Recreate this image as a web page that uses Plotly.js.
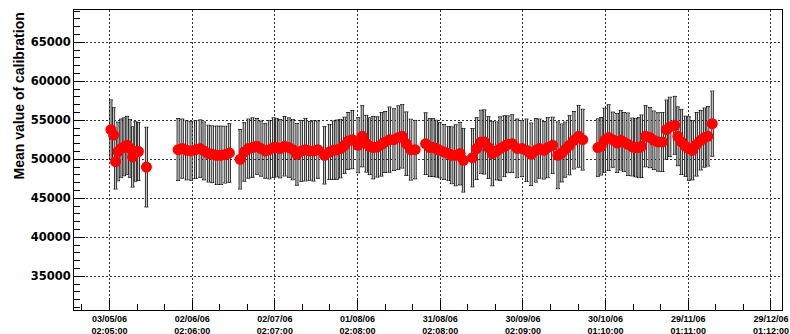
<!DOCTYPE html>
<html>
<head>
<meta charset="utf-8">
<script src="https://cdn.plot.ly/plotly-3.0.1.min.js"></script>
<style>html,body{margin:0;padding:0;background:#fff;}#chart{width:790px;height:334px;}</style>
</head>
<body>
<div id="chart"></div>
<script>
// Days since 03/05/06 02:05:00
const days = [
  0.5,1.5,2.2,3.1,4.2,5.3,6.4,7.4,8.4,9.4,10.5,13.4,
  24.9,26.4,28.0,29.6,31.2,32.9,34.3,35.9,37.3,38.9,40.4,42.0,43.5,
  47.4,48.9,50.4,51.9,53.5,55.0,56.5,58.0,59.5,60.6,61.9,63.5,65.1,66.5,68.0,69.6,71.1,72.6,74.0,75.6,
  78.0,79.8,81.3,82.6,83.8,85.3,86.6,88.1,90.2,91.7,93.2,94.4,95.7,97.2,98.7,100.0,101.6,103.2,104.8,106.2,107.7,109.3,110.9,
  114.7,116.2,117.4,118.6,119.8,121.4,123.0,124.2,125.6,127.2,128.4,
  131.7,133.2,134.8,136.0,137.5,138.9,140.5,141.7,143.3,144.5,146.1,147.9,149.7,151.3,153.0,154.7,156.0,157.6,159.0,160.8,162.7,164.1,165.3,166.9,168.5,170.2,171.7,
  177.2,178.4,179.6,181.1,182.6,184.2,185.5,186.6,188.1,189.7,190.9,192.1,193.0,194.5,196.1,197.5,199.0,200.6,202.1,203.3,205.1,206.2,207.5,209.0,210.2,211.5,213.0,214.5,215.9,217.1,218.7
];
const means = [
  53800,53100,49700,51000,51400,51600,51800,51400,50300,51000,51000,49000,
  51240,51370,51150,51070,51240,51370,51070,50730,50640,50510,50510,50600,50810,
  50000,50940,51370,51500,51670,51370,51070,51240,51500,51500,51370,51670,51500,51240,50640,51070,51240,51070,51070,51240,
  50510,50940,51150,51240,51370,51800,52350,52520,51800,52950,52000,51670,51500,51580,51920,52220,52520,52520,52780,52950,52000,51240,51240,
  52000,51500,51500,51370,51150,50940,50730,50510,50510,50730,49870,
  50210,51370,52220,52220,51500,50730,51070,51370,51670,51920,52000,51400,51370,51150,50640,51150,51370,51150,51500,51800,50510,50810,51240,51800,52440,52950,52520,
  51500,51670,52440,52780,52520,52090,52440,52220,51920,51580,51500,51500,51670,52950,52780,52440,52220,52220,53800,54150,54360,52950,52220,51670,51370,51150,51920,52440,52780,52950,54570
];
const errs = [
  3800,3500,3500,3750,3750,3700,3700,3700,3850,3800,3700,5100,
  3970,3780,3780,3740,3700,3670,3700,3630,3630,3740,3740,3630,3740,
  3800,3740,3780,3800,3570,3520,3480,3740,3800,3740,3740,3800,3800,3850,3950,3890,4000,3740,3850,3670,
  3670,3520,3740,3780,3740,3590,3630,3720,3520,3910,3630,3630,4000,3850,4060,3890,4170,3950,4060,4060,4060,3890,3740,
  3950,3700,3700,3630,3520,3520,3460,3630,3900,4000,4060,
  3740,3950,4060,4100,3950,4120,3700,4060,3890,3630,3700,3750,3590,4000,4000,4060,3780,3670,3850,3590,4270,3700,3520,3780,3670,3950,3890,
  3670,3670,4100,4200,3520,3780,3800,3780,4000,3700,3740,3850,4000,3910,3850,3740,3740,3780,3780,3800,3700,3760,4170,3850,4060,3780,4060,3800,3780,3800,4170
];
const tickDays = [0,30,60,90,120,150,180,210,240];
const tickDates = ['03/05/06','02/06/06','02/07/06','01/08/06','31/08/06','30/09/06','30/10/06','29/11/06','29/12/06'];
const tickTimes = ['02:05:00','02:06:00','02:07:00','02:08:00','02:08:00','02:09:00','01:10:00','01:11:00','01:12:00'];
const yTitle = 'Mean value of calibration';

const base = {x: days, y: means, type: 'scatter', mode: 'markers', hoverinfo: 'skip', showlegend: false};
const caps = Object.assign({}, base, {marker: {opacity: 0, size: 1},
  error_y: {type: 'data', array: errs, visible: true, color: '#000', thickness: 1, width: 2}});
const body = Object.assign({}, base, {marker: {opacity: 0, size: 1},
  error_y: {type: 'data', array: errs, visible: true, color: '#111', thickness: 3, width: 0}});
const inner = Object.assign({}, base, {marker: {opacity: 0, size: 1},
  error_y: {type: 'data', array: errs, visible: true, color: '#c4c4c4', thickness: 1.4, width: 0}});
const pts = Object.assign({}, base, {marker: {color: '#ff0000', size: 11, line: {width: 0}}});

const gridStyle = {showgrid: true, gridcolor: '#333', gridwidth: 1, griddash: '2px,2px'};
const layout = {
  width: 790, height: 334,
  margin: {l: 74, r: 8, t: 10, b: 24},
  paper_bgcolor: '#fff', plot_bgcolor: '#fff',
  xaxis: Object.assign({
    range: [-12.88, 244.0],
    tickmode: 'array', tickvals: tickDays,
    ticktext: tickDates.map((d, i) => d + '<br>' + tickTimes[i]),
    ticks: 'inside', ticklen: 10, tickcolor: '#000', tickwidth: 1,
    showline: true, mirror: true, linecolor: '#000', linewidth: 1,
    zeroline: false,
    tickfont: {family: 'Liberation Sans, Arial, sans-serif', size: 9, color: '#000', weight: 'bold'},
    minor: {tick0: 0, dtick: 10, ticks: 'inside', ticklen: 6, tickcolor: '#000', showgrid: false}
  }, gridStyle),
  yaxis: Object.assign({
    range: [30680, 69140],
    tick0: 0, dtick: 5000, tickformat: 'd',
    ticks: 'inside', ticklen: 11, tickcolor: '#000', tickwidth: 1,
    showline: true, mirror: true, linecolor: '#000', linewidth: 1,
    zeroline: false,
    tickfont: {family: 'DejaVu Sans, sans-serif', size: 11.5, color: '#000', weight: 'bold'},
    minor: {tick0: 0, dtick: 1000, ticks: 'inside', ticklen: 6, tickcolor: '#000', showgrid: false}
  }, gridStyle),
  annotations: [{
    text: yTitle, xref: 'paper', yref: 'paper', x: -0.0777, y: 1.0,
    xanchor: 'center', yanchor: 'top', textangle: -90, showarrow: false,
    font: {family: 'Liberation Sans, Arial, sans-serif', size: 14, color: '#000', weight: 'bold'}
  }]
};
Plotly.newPlot('chart', [caps, body, inner, pts], layout, {staticPlot: true, displayModeBar: false});
</script>
</body>
</html>
